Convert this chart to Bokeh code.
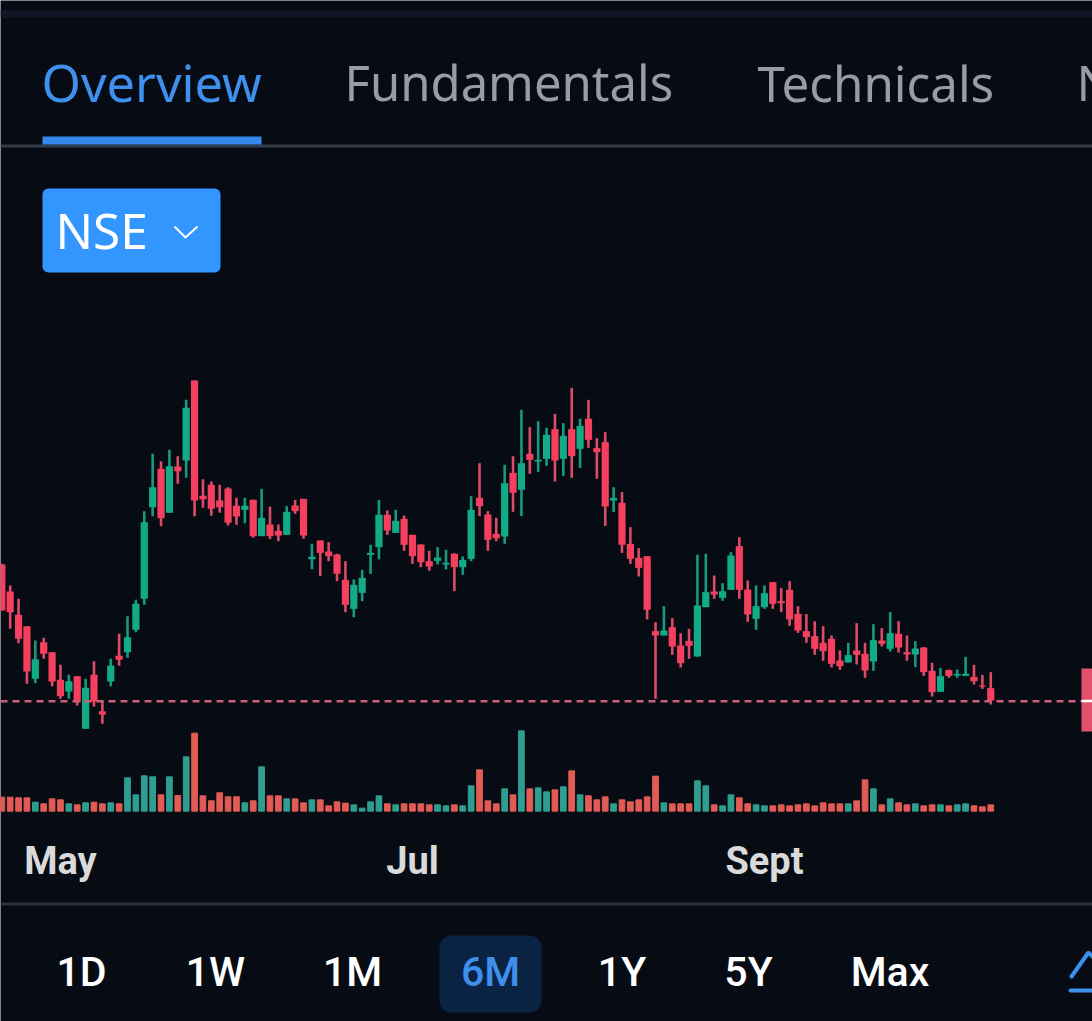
from bokeh.plotting import figure
from bokeh.core.properties import value
from bokeh.models import (ColumnDataSource, Range1d, LinearAxis, FixedTicker, BoxAnnotation,
                          InlineStyleSheet)
from bokeh.embed import file_html
from bokeh.resources import INLINE

BG = "#070c14"

month_ticks = [7, 49, 91]
month_labels = ["May", "Jul", "Sept"]

highs = [1420,1355,1315,1233,1190,1198,1155,1117,1087,1083,1075,1128,1010,1135,1210,1263,1312,1578,1750,1728,
         1762,1743,1912,1970,1674,1667,1657,1650,1618,1618,1612,1645,1592,1538,1593,1612,1615,1480,1490,1485,
         1450,1428,1373,1402,1477,1612,1580,1582,1565,1507,1478,1459,1470,1462,1452,1442,1623,1722,1578,1558,
         1717,1743,1882,1830,1848,1828,1870,1842,1948,1855,1912,1797,1815,1650,1635,1530,1467,1443,1245,1293,
         1257,1212,1225,1447,1450,1385,1362,1455,1500,1370,1355,1355,1365,1347,1368,1293,1269,1248,1233,1205,
         1160,1183,1242,1183,1239,1227,1275,1248,1205,1188,1170,1123,1108,1103,1103,1141,1117,1087,1095]
lows = [1280,1225,1182,1060,1062,1135,1053,1015,1015,995,925,992,940,1053,1114,1138,1215,1297,1563,1533,
        1573,1660,1678,1563,1588,1564,1573,1535,1537,1542,1498,1503,1494,1488,1507,1570,1495,1404,1383,1428,
        1368,1275,1260,1308,1390,1433,1507,1513,1459,1420,1410,1399,1418,1403,1338,1387,1428,1563,1459,1488,
        1480,1576,1563,1690,1696,1714,1667,1684,1678,1708,1768,1675,1534,1575,1453,1420,1382,1253,1015,1205,
        1147,1109,1135,1142,1290,1315,1309,1342,1315,1246,1222,1285,1285,1275,1234,1213,1183,1147,1129,1109,
        1102,1124,1118,1078,1099,1172,1157,1154,1129,1110,1084,1022,1036,1078,1078,1084,1058,1045,998]
opens = [1418,1337,1267,1233,1075,1185,1155,1072,1037,1083,925,1087,978,1067,1144,1155,1222,1315,1590,1705,
         1573,1712,1730,1970,1624,1657,1610,1646,1594,1582,1612,1503,1538,1519,1507,1595,1615,1434,1490,1457,
         1448,1372,1285,1333,1447,1470,1567,1513,1555,1507,1478,1428,1429,1418,1450,1410,1435,1618,1568,1510,
         1502,1693,1642,1750,1727,1735,1824,1735,1824,1765,1855,1767,1785,1610,1603,1480,1438,1443,1218,1205,
         1230,1175,1189,1142,1290,1337,1318,1342,1473,1343,1255,1290,1365,1308,1342,1270,1218,1203,1183,1195,
         1130,1124,1160,1150,1127,1190,1165,1210,1155,1148,1169,1099,1036,1101,1085,1084,1081,1055,1047]
closes = [1280,1275,1195,1097,1134,1150,1067,1023,1068,1005,1048,1007,968,1115,1132,1200,1300,1545,1650,1557,
          1713,1698,1888,1610,1614,1585,1590,1543,1562,1594,1503,1558,1503,1505,1576,1578,1505,1441,1453,1443,
          1390,1297,1357,1378,1453,1567,1520,1549,1477,1443,1425,1412,1439,1423,1410,1432,1582,1593,1492,1497,
          1662,1633,1722,1732,1732,1807,1730,1804,1743,1834,1792,1755,1592,1618,1477,1435,1408,1282,1205,1220,
          1172,1122,1174,1295,1335,1328,1338,1445,1342,1268,1293,1332,1300,1302,1253,1220,1200,1165,1158,1120,
          1113,1146,1147,1100,1191,1180,1212,1169,1148,1166,1095,1035,1083,1084,1090,1090,1068,1052,1010]
volumes = [42,42,40,40,27,22,37,34,22,19,25,27,22,25,22,100,49,106,103,49,
           103,47,163,234,46,31,55,43,43,25,31,133,46,46,37,37,25,34,34,16,
           28,24,19,9,28,46,22,19,22,22,22,19,19,16,19,16,76,124,31,22,
           67,49,241,67,70,58,64,73,121,49,46,34,43,22,34,28,34,43,105,25,
           22,22,22,91,76,19,16,49,40,22,19,16,16,19,16,19,22,16,25,22,
           22,22,31,94,67,19,37,25,19,22,16,19,19,16,19,22,16,13,19]
volume_up = [0,0,0,0,1,0,0,0,1,0,1,0,0,1,0,1,1,1,1,0,
             1,0,1,0,0,0,0,0,0,1,0,1,0,0,1,0,0,1,0,0,
             0,0,1,1,1,1,0,1,0,0,0,0,1,1,0,1,1,0,0,0,
             1,0,1,0,1,1,0,1,0,1,0,0,0,1,0,0,0,0,0,1,
             0,0,0,1,1,0,1,1,0,0,1,1,0,0,0,0,0,0,0,0,
             0,1,0,0,1,0,1,0,0,1,0,0,1,0,1,1,0,0,0]
last_price = 1008
tabs = ["Overview", "Fundamentals", "Technicals", "N"]
periods = ["1D", "1W", "1M", "6M", "1Y", "5Y", "Max"]

RED, GREEN = "#f43f5e", "#12ab88"
RED_W, GREEN_W = "#dc4c66", "#169a80"
RED_V, GREEN_V = "#e25c55", "#2f9e90"
xs = list(range(len(opens)))
source = ColumnDataSource(dict(
    x=xs, high=highs, low=lows, open=opens, close=closes,
    color=[GREEN if c > o else RED for o, c in zip(opens, closes)],
    wick=[GREEN_W if c > o else RED_W for o, c in zip(opens, closes)],
))
vsource = ColumnDataSource(dict(
    x=xs, v=volumes, color=[GREEN_V if u else RED_V for u in volume_up],
))

W, H = 1092, 1021
# one candle step is 8.381 px; candle 0 sits at 1.3 px in the picture
x_start = -1.3 / 8.381
x_end = (W - 1.3) / 8.381
# 3 price units per picture pixel, price = 2000 - 3 * (y - 370)
p = figure(width=W, height=H, output_backend="svg", toolbar_location=None,
           x_range=Range1d(x_start, x_end), y_range=Range1d(47, 3110),
           x_axis_location=None, y_axis_location=None, min_border=0,
           background_fill_color=BG, border_fill_color=BG, outline_line_color=None)
p.grid.visible = False
p.stylesheets = [InlineStyleSheet(css=":host{box-shadow:0 0 0 60px %s;}" % BG)]
p.extra_y_ranges = {"vol": Range1d(-631, 2432), "py": Range1d(1021, 0)}
p.extra_x_ranges = {"px": Range1d(0, 1092)}

# chrome
def box(l, r, t, b, color, radius=0):
    p.add_layout(BoxAnnotation(left=l, right=r, top=t, bottom=b, fill_color=color, fill_alpha=1,
                               line_alpha=0, border_radius=radius, level="underlay",
                               x_range_name="px", y_range_name="py"))

box(0, 1092, 10, 17, "#101626")
box(0, 1092, 144, 147, "#343b4a")
box(42, 261, 136, 144, "#3388ee")
box(42, 220, 188, 272, "#3396ff", 6)
box(0, 1092, 902, 905, "#2b3040")
box(439, 541, 935, 1012, "#0b2342", 12)
box(1081, 1092, 668, 731, "#e4506c")

def text(x, y, t, color, size, align="left", weight="normal", font="Noto Sans"):
    p.text([x], [y], text=[t], text_color=color, text_font=value(font), text_font_size=size,
           text_align=align, text_baseline="alphabetic", text_font_style=weight,
           x_range_name="px", y_range_name="py")

tab_x = [41, 344, 757, 1076]
tab_size = ["50.5px", "49px", "49.3px", "49.5px"]
tab_color = ["#3f8fee", "#979ca6", "#979ca6", "#979ca6"]
for tx, t, c, s in zip(tab_x, tabs, tab_color, tab_size):
    text(tx, 81.5, t, c, s)
text(55, 229.5, "NSE", "#ffffff", "49.5px")
p.line([174, 185, 197], [226, 237, 226], x_range_name="px", y_range_name="py",
       line_color="#ffffff", line_width=2)

period_x = [81, 215, 352, 490, 621.5, 748, 889.5]
for px_, t in zip(period_x, periods):
    text(px_, 971, t, "#3f8fee" if t == "6M" else "#ffffff", "41px", "center", "normal", "Roboto Medium")

p.line([1071, 1088, 1092], [976, 952, 956], x_range_name="px", y_range_name="py",
       line_color="#3f8fee", line_width=4, line_cap="round")
p.line([1070, 1092], [990, 990], x_range_name="px", y_range_name="py",
       line_color="#3f8fee", line_width=4, line_cap="round")

# volume and candles
p.vbar(x="x", top="v", bottom=0, width=0.68, color="color", source=vsource, y_range_name="vol")
p.segment(x0="x", y0="low", x1="x", y1="high", line_color="wick", line_width=2.6, source=source)
p.vbar(x="x", top="open", bottom="close", width=0.86, fill_color="color", line_color="color",
       line_width=0, source=source)

# last price line
p.line([x_start, x_end], [last_price, last_price], line_color="#c75f77", line_width=2.5,
       line_dash=[7, 5])
p.line([1081, 1092], [700.5, 700.5], x_range_name="px", y_range_name="py",
       line_color="#ffffff", line_width=2.5)

axis = LinearAxis(ticker=FixedTicker(ticks=month_ticks),
                  major_label_overrides={t: l for t, l in zip(month_ticks, month_labels)},
                  fixed_location=612,
                  axis_line_color=None, major_tick_line_color=None, minor_tick_line_color=None,
                  major_label_text_color="#dadada", major_label_text_font="Roboto",
                  major_label_text_font_size="38px", major_label_text_font_style="bold",
                  major_label_standoff=0)
p.add_layout(axis, "below")

open("out.html", "w").write(file_html(p, INLINE))
